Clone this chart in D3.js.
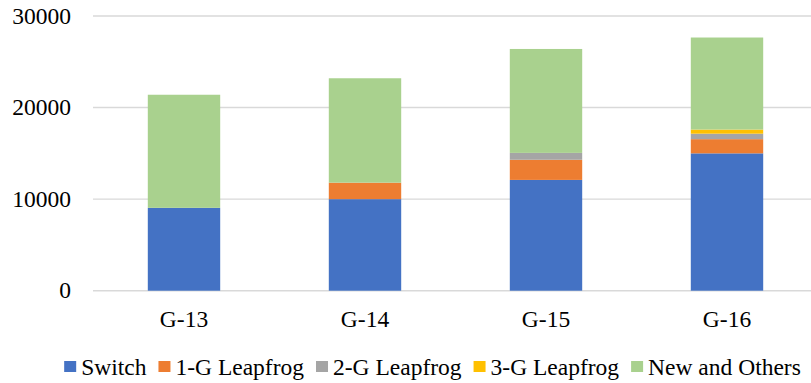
<!DOCTYPE html>
<html>
<head>
<meta charset="utf-8">
<script src="https://cdn.jsdelivr.net/npm/d3@7"></script>
</head>
<body style="margin:0;padding:0;background:#fff">
<div id="wrap"></div>
<script>
// Generations on the x axis
const categories = ["G-13", "G-14", "G-15", "G-16"];

// Stacked series, bottom to top
const seriesNames = ["Switch", "1-G Leapfrog", "2-G Leapfrog", "3-G Leapfrog", "New and Others"];
const switchVals   = [9050, 10000, 12100, 15000];
const leap1Vals    = [0, 1800, 2200, 1550];
const leap2Vals    = [0, 0, 750, 600];
const leap3Vals    = [0, 0, 0, 450];
const newOtherVals = [12350, 11400, 11350, 10050];

const yTicks = [0, 10000, 20000, 30000];
const colors = ["#4472C4", "#ED7D31", "#A5A5A5", "#FFC000", "#A9D18E"];

const FONT = '"Liberation Serif"';
const FS = "23.5px";

const seriesValues = [switchVals, leap1Vals, leap2Vals, leap3Vals, newOtherVals];
const rows = categories.map((c, i) => {
  const r = { cat: c };
  seriesNames.forEach((s, k) => { r[s] = seriesValues[k][i]; });
  return r;
});

const svg = d3.select("#wrap").append("svg")
  .attr("width", 811).attr("height", 383)
  .style("display", "block")
  .style("font-family", FONT);
const plotLeft = 93, plotRight = 811;

const x = d3.scaleBand()
  .domain(categories)
  .range([93.5, 817.5])
  .paddingInner(0.6)
  .paddingOuter(0.3);

const y = d3.scaleLinear().domain([0, 30000]).range([290.7, 16]);

// Horizontal gridlines
svg.append("g").selectAll("line")
  .data(yTicks)
  .join("line")
  .attr("x1", plotLeft).attr("x2", plotRight)
  .attr("y1", d => y(d)).attr("y2", d => y(d))
  .attr("stroke", "#D9D9D9").attr("stroke-width", 1.4);

// Y axis labels
const yg = svg.append("g").selectAll("text")
  .data(yTicks)
  .join("text")
  .attr("x", 71).attr("y", d => y(d)).attr("dy", "0.33em")
  .attr("text-anchor", "end")
  .style("font-family", FONT).style("font-size", FS).style("fill", "#000")
  .text(d => d3.format("d")(d));

// Stacked bars
const layers = d3.stack().keys(seriesNames)(rows);

svg.append("g").selectAll("g")
  .data(layers)
  .join("g")
  .attr("fill", (d, i) => colors[i])
  .selectAll("rect")
  .data(d => d.filter(p => p[1] - p[0] > 0))
  .join("rect")
  .attr("x", d => x(d.data.cat))
  .attr("width", x.bandwidth())
  .attr("y", d => y(d[1]))
  .attr("height", d => y(d[0]) - y(d[1]));

// X axis labels
svg.append("g").selectAll("text")
  .data(categories)
  .join("text")
  .attr("x", d => x(d) + x.bandwidth() / 2).attr("y", 326.5)
  .attr("text-anchor", "middle")
  .style("font-family", FONT).style("font-size", FS).style("fill", "#000")
  .text(d => d);

// Legend
const legend = svg.append("g");
const items = legend.selectAll("g").data(seriesNames).join("g");
items.append("rect").attr("width", 12).attr("height", 11).attr("y", 361).attr("fill", (d, i) => colors[i]);
items.append("text").text(d => d)
  .style("font-family", FONT).style("font-size", FS).style("fill", "#000")
  .attr("y", 375).attr("x", 17);
const widths = [];
items.each(function () {
  widths.push(17 + d3.select(this).select("text").node().getComputedTextLength());
});
const gap = 12;
const totalW = d3.sum(widths) + gap * (widths.length - 1);
let start = 432.5 - totalW / 2;
items.attr("transform", (d, i) => {
  const t = `translate(${start},0)`;
  start += widths[i] + gap;
  return t;
});
</script>
</body>
</html>
